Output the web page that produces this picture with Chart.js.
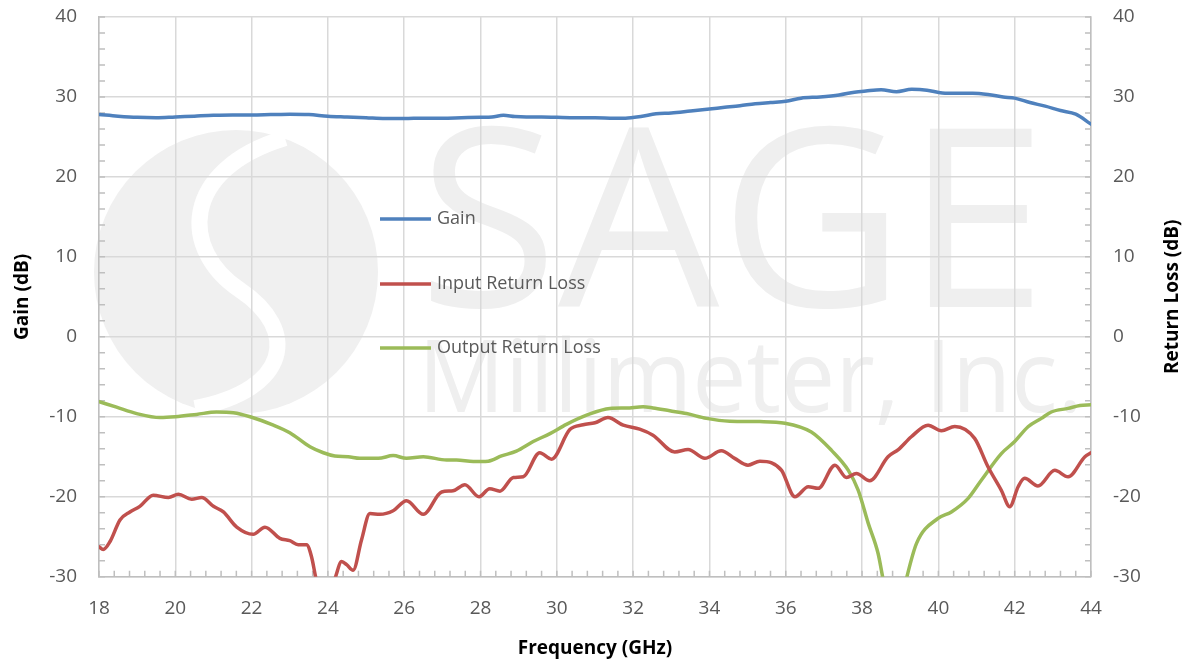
<!DOCTYPE html>
<html>
<head>
<meta charset="utf-8">
<title>Gain and Return Loss</title>
<script src="https://cdn.jsdelivr.net/npm/chart.js@4/dist/chart.umd.min.js"></script>
<style>
  html, body { margin: 0; padding: 0; background: #fff; }
  #wrap { width: 1187px; height: 662px; position: relative; }
</style>
</head>
<body>
<div id="wrap"><canvas id="chart"></canvas></div>
<script>
// x axis ticks (GHz) and y axis ticks (dB)
const freqTicks = [18, 20, 22, 24, 26, 28, 30, 32, 34, 36, 38, 40, 42, 44];
const dbTicks = [-30, -20, -10, 0, 10, 20, 30, 40];

// Gain
const gainFreq = [18, 18.5, 19, 19.5, 20, 20.5, 21, 21.5, 22, 22.5, 23, 23.5, 24, 24.5, 25, 25.5, 26, 26.5, 27, 27.5,
  28, 28.3, 28.6, 28.9, 29.2, 29.6, 30, 30.5, 31, 31.5, 31.8, 32.2, 32.6, 33, 33.5, 34, 34.4, 34.8, 35.2, 35.6,
  36, 36.4, 36.9, 37.4, 37.8, 38.1, 38.5, 38.9, 39.3, 39.7, 40.1, 40.5, 40.9, 41.3, 41.7, 42, 42.4, 42.8, 43.2, 43.6, 44];
const gainDb = [27.8, 27.6, 27.45, 27.4, 27.5, 27.6, 27.7, 27.75, 27.75, 27.8, 27.85, 27.8, 27.6, 27.5, 27.4, 27.3, 27.3, 27.35, 27.35, 27.4,
  27.45, 27.5, 27.7, 27.55, 27.5, 27.5, 27.45, 27.4, 27.4, 27.35, 27.35, 27.55, 27.9, 28.0, 28.25, 28.5, 28.7, 28.9, 29.15, 29.3,
  29.45, 29.85, 30.0, 30.25, 30.6, 30.75, 30.9, 30.65, 30.95, 30.85, 30.5, 30.45, 30.45, 30.3, 30.0, 29.85, 29.3, 28.85, 28.3, 27.85, 26.6];

// Input Return Loss
const irlFreq = [18.0, 18.11, 18.29, 18.55, 18.81, 19.07, 19.42, 19.82, 20.08, 20.43, 20.69, 21.0, 21.26, 21.61, 22.04, 22.35, 22.74, 23.0,
  23.22, 23.44, 23.57, 23.69, 23.9, 24.18, 24.36, 24.49, 24.66, 24.88, 25.1, 25.36, 25.71, 26.06, 26.5, 26.98, 27.28, 27.59, 27.96,
  28.24, 28.51, 28.86, 29.12, 29.55, 29.86, 30.34, 30.69, 31.0, 31.34, 31.74, 32.17, 32.52, 33.09, 33.44, 33.88, 34.31, 34.66, 35.01,
  35.32, 35.63, 35.89, 36.24, 36.59, 36.85, 37.29, 37.59, 37.85, 38.2, 38.68, 38.95, 39.29, 39.73, 40.08, 40.43, 40.95, 41.3, 41.65,
  41.87, 42.09, 42.26, 42.61, 43.05, 43.4, 43.84, 44.0];
const irlDb = [-26.25, -26.6, -25.6, -22.9, -21.9, -21.2, -19.8, -20.1, -19.7, -20.3, -20.1, -21.2, -21.9, -23.8, -24.7, -23.8, -25.2, -25.5,
  -26.0, -26.0, -27.5, -30.3, -34, -30.3, -28.1, -28.5, -29.2, -25.4, -22.1, -22.2, -21.75, -20.5, -22.2, -19.4, -19.25, -18.5, -20.0,
  -19.0, -19.3, -17.6, -17.5, -14.5, -15.3, -11.6, -11.0, -10.75, -10.1, -11.05, -11.55, -12.3, -14.4, -14.1, -15.2, -14.25, -15.2, -16.05,
  -15.55, -15.75, -16.7, -20.0, -18.75, -18.95, -16.05, -17.6, -17.1, -18.0, -15.0, -14.1, -12.5, -11.05, -11.75, -11.2, -12.7, -16.25, -19.2,
  -21.25, -18.75, -17.7, -18.65, -16.7, -17.5, -15.0, -14.5];

// Output Return Loss
const orlFreq = [18.0, 18.46, 18.99, 19.6, 20.0, 20.56, 21.08, 21.52, 21.96, 22.57, 23.0, 23.53, 23.88, 24.18, 24.53, 24.84, 25.32, 25.71,
  26.06, 26.5, 27.11, 27.37, 27.81, 28.2, 28.55, 28.94, 29.38, 29.82, 30.25, 30.78, 31.39, 31.82, 32.26, 32.52, 32.96, 33.4, 33.92,
  34.53, 35.32, 35.98, 36.67, 37.2, 37.64, 37.9, 38.16, 38.42, 38.55, 38.85, 39.16, 39.43, 39.99, 40.34, 40.78, 41.13, 41.65, 42.0,
  42.35, 42.7, 42.96, 43.4, 43.71, 44.0];
const orlDb = [-8.1, -8.8, -9.6, -10.1, -10.0, -9.7, -9.4, -9.5, -10.0, -11.05, -12.0, -13.75, -14.5, -14.9, -15.0, -15.2, -15.2, -14.85,
  -15.2, -15.0, -15.4, -15.4, -15.6, -15.55, -14.9, -14.3, -13.1, -12.1, -10.95, -9.8, -8.95, -8.9, -8.75, -8.9, -9.25, -9.6, -10.2,
  -10.55, -10.6, -10.8, -11.9, -14.2, -16.7, -19.2, -23.3, -27.1, -30.3, -37, -30.3, -25.8, -22.7, -21.9, -20.2, -17.9, -14.6, -13.1,
  -11.25, -10.2, -9.4, -8.95, -8.6, -8.5];

const toPoints = (xs, ys) => xs.map((x, i) => ({ x: x, y: ys[i] }));

const TICK_COLOR = '#595959';
const GRID_COLOR = '#d9d9d9';
const AXIS_COLOR = '#bfbfbf';
const FONT = '"Open Sans", "Noto Sans", sans-serif';

// faint company logo behind the grid
const watermark = {
  id: 'watermark',
  beforeDraw(chart) {
    const ctx = chart.ctx;
    ctx.save();
    ctx.fillStyle = '#fff';
    ctx.fillRect(0, 0, chart.width, chart.height);
    ctx.fillStyle = '#f0f0f0';
    ctx.beginPath();
    ctx.ellipse(236, 272, 142, 142, 0, 0, Math.PI * 2);
    ctx.fill();
    ctx.strokeStyle = '#fff';
    ctx.lineWidth = 16;
    ctx.beginPath();
    ctx.moveTo(285, 138);
    ctx.bezierCurveTo(180, 170, 180, 250, 240, 290);
    ctx.bezierCurveTo(300, 330, 290, 390, 195, 408);
    ctx.stroke();

    ctx.fillStyle = '#efefef';
    ctx.textBaseline = 'alphabetic';
    ctx.font = '250px ' + FONT;
    let w = ctx.measureText('SAGE').width;
    ctx.save();
    ctx.translate(418, 307);
    ctx.scale(629 / w, 1);
    ctx.fillText('SAGE', 0, 0);
    ctx.restore();
    ctx.font = '100px ' + FONT;
    w = ctx.measureText('Millimeter, Inc.').width;
    ctx.save();
    ctx.translate(418, 412);
    ctx.scale(665 / w, 1);
    ctx.fillText('Millimeter, Inc.', 0, 0);
    ctx.restore();
    ctx.restore();
  }
};

// inward minor tick marks, legend inside the plot, right axis title
const extras = {
  id: 'extras',
  beforeDatasetsDraw(chart) {
    const ctx = chart.ctx;
    const { left, right, bottom } = chart.chartArea;
    const xs = chart.scales.x, ys = chart.scales.y;
    ctx.save();
    ctx.strokeStyle = AXIS_COLOR;
    ctx.lineWidth = 1.5;
    ctx.beginPath();
    for (let i = 0; i <= 65; i++) {
      const px = xs.getPixelForValue(18 + i * 0.4);
      ctx.moveTo(px, bottom);
      ctx.lineTo(px, bottom - 6);
    }
    for (let v = -30; v <= 40; v += 2) {
      const py = ys.getPixelForValue(v);
      ctx.moveTo(left, py);
      ctx.lineTo(left + 6, py);
      ctx.moveTo(right, py);
      ctx.lineTo(right - 6, py);
    }
    ctx.stroke();
    ctx.restore();
  },
  afterDraw(chart) {
    const ctx = chart.ctx;
    ctx.save();
    const rows = [219, 284, 348];
    ctx.font = '18px ' + FONT;
    ctx.textBaseline = 'middle';
    chart.data.datasets.forEach((ds, i) => {
      ctx.strokeStyle = ds.borderColor;
      ctx.lineWidth = 3.5;
      ctx.beginPath();
      ctx.moveTo(380, rows[i]);
      ctx.lineTo(431, rows[i]);
      ctx.stroke();
      ctx.fillStyle = TICK_COLOR;
      ctx.fillText(ds.label, 437, rows[i]);
    });
    ctx.translate(1173, (chart.chartArea.top + chart.chartArea.bottom) / 2);
    ctx.rotate(-Math.PI / 2);
    ctx.font = 'bold 19px ' + FONT;
    ctx.fillStyle = '#000';
    ctx.textAlign = 'center';
    ctx.fillText('Return Loss (dB)', 0, 0);
    ctx.restore();
  }
};

// keep tick padding from pushing the plot area down
const noEdgePad = s => { s.paddingTop = 0; s.paddingBottom = 0; };

new Chart(document.getElementById('chart'), {
  type: 'line',
  data: {
    datasets: [
      { label: 'Gain', data: toPoints(gainFreq, gainDb), yAxisID: 'y', borderColor: '#4f81bd' },
      { label: 'Input Return Loss', data: toPoints(irlFreq, irlDb), yAxisID: 'y1', borderColor: '#c0504d' },
      { label: 'Output Return Loss', data: toPoints(orlFreq, orlDb), yAxisID: 'y1', borderColor: '#9bbb59' }
    ]
  },
  options: {
    responsive: true,
    maintainAspectRatio: false,
    animation: false,
    layout: { padding: { top: 17, right: 0, bottom: 0, left: 0 } },
    elements: {
      point: { radius: 0 },
      line: { borderWidth: 3.5, cubicInterpolationMode: 'monotone', fill: false, borderCapStyle: 'round' }
    },
    datasets: { line: { clip: 0 } },
    plugins: { legend: { display: false }, tooltip: { enabled: false } },
    scales: {
      x: {
        type: 'linear', min: 18, max: 44,
        afterBuildTicks: s => { s.ticks = freqTicks.map(v => ({ value: v })); },
        afterFit: s => { s.height = 85.3; s.paddingLeft = 0; s.paddingRight = 0; },
        grid: { color: GRID_COLOR, lineWidth: 1.5, drawTicks: false },
        border: { color: AXIS_COLOR, width: 1.5 },
        ticks: { color: TICK_COLOR, font: { family: FONT, size: 19 }, padding: 20, maxRotation: 0 },
        title: { display: true, text: 'Frequency (GHz)', color: '#000', font: { family: FONT, size: 19, weight: 'bold' }, padding: { top: 4, bottom: 2 } }
      },
      y: {
        position: 'left', min: -30, max: 40,
        afterBuildTicks: s => { s.ticks = dbTicks.map(v => ({ value: v })); },
        afterFit: s => { s.width = 99; noEdgePad(s); },
        grid: { color: GRID_COLOR, lineWidth: 1.5, drawTicks: false },
        border: { color: AXIS_COLOR, width: 1.5 },
        ticks: { color: TICK_COLOR, font: { family: FONT, size: 19 }, padding: 22 },
        title: { display: true, text: 'Gain (dB)', color: '#000', font: { family: FONT, size: 19, weight: 'bold' }, padding: { top: 11, bottom: 4 } }
      },
      y1: {
        position: 'right', min: -30, max: 40,
        afterBuildTicks: s => { s.ticks = dbTicks.map(v => ({ value: v })); },
        afterFit: s => { s.width = 96; noEdgePad(s); },
        grid: { drawOnChartArea: false, drawTicks: false },
        border: { color: AXIS_COLOR, width: 1.5 },
        ticks: { color: TICK_COLOR, font: { family: FONT, size: 19 }, padding: 22 }
      }
    }
  },
  plugins: [watermark, extras]
});
</script>
</body>
</html>
